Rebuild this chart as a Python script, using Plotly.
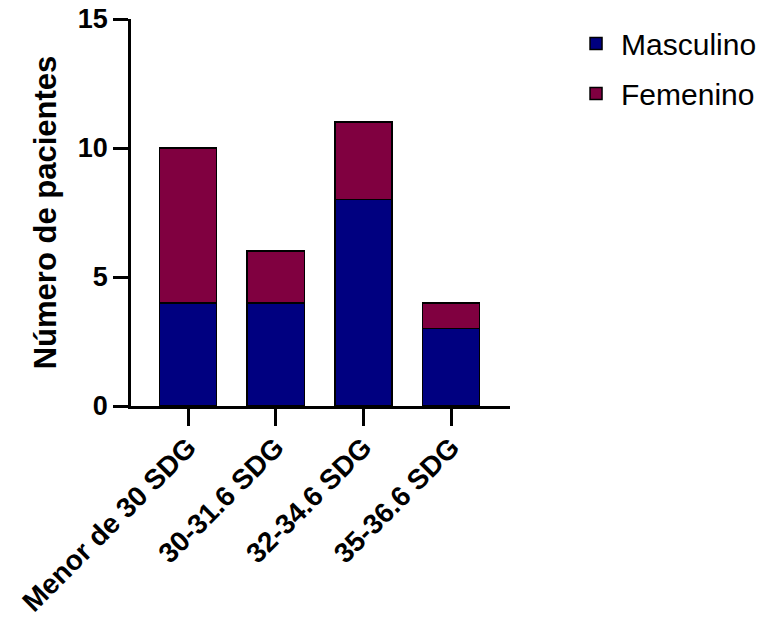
import plotly.graph_objects as go

categories = ["Menor de 30 SDG", "30-31.6 SDG", "32-34.6 SDG", "35-36.6 SDG"]
masculino = [4, 4, 8, 3]
femenino = [6, 2, 3, 1]
y_ticks = [0, 5, 10, 15]

FONT = "Liberation Sans, Arial, sans-serif"

fig = go.Figure()
fig.add_trace(go.Bar(x=categories, y=masculino, name="Masculino", legendgroup="m",
                     marker=dict(color="#000080", line=dict(color="black", width=1.5)),
                     width=0.65))
fig.add_trace(go.Bar(x=categories, y=femenino, name="Femenino", legendgroup="f",
                     marker=dict(color="#800040", line=dict(color="black", width=1.5)),
                     width=0.65))

# page body has an 8px margin, so the figure is drawn 8px smaller
fig.update_layout(
    barmode="stack",
    width=761, height=612,
    margin=dict(l=123, r=259, t=11, b=214, autoexpand=False),
    plot_bgcolor="white", paper_bgcolor="white",
    font=dict(family=FONT, color="black"),
    showlegend=True,
    legend=dict(x=1.665, y=1.004, xanchor="right", yanchor="top",
                font=dict(family=FONT, size=30, color="black"),
                itemwidth=40, tracegroupgap=8, traceorder="grouped",
                bgcolor="rgba(0,0,0,0)"),
    xaxis=dict(range=[-0.65, 3.67], showline=True, linecolor="black", linewidth=2.5,
               ticks="outside", ticklen=17, tickwidth=2.5, tickcolor="black",
               tickangle=-45, automargin=False, ticklabeloverflow="allow",
               ticklabelstandoff=-6,
               tickfont=dict(family=FONT, size=28, color="black", weight="bold"),
               showgrid=False, zeroline=False),
    yaxis=dict(range=[0, 15], tickvals=y_ticks, showline=True, linecolor="black", linewidth=2.5,
               ticks="outside", ticklen=15, tickwidth=2.5, tickcolor="black", automargin=False,
               ticklabeloverflow="allow",
               tickfont=dict(family=FONT, size=27, color="black", weight="bold"),
               title=dict(text="<b>Número de pacientes</b>", font=dict(family=FONT, size=31, color="black"),
                          standoff=12),
               showgrid=False, zeroline=False),
)

fig.write_html("out.html")
